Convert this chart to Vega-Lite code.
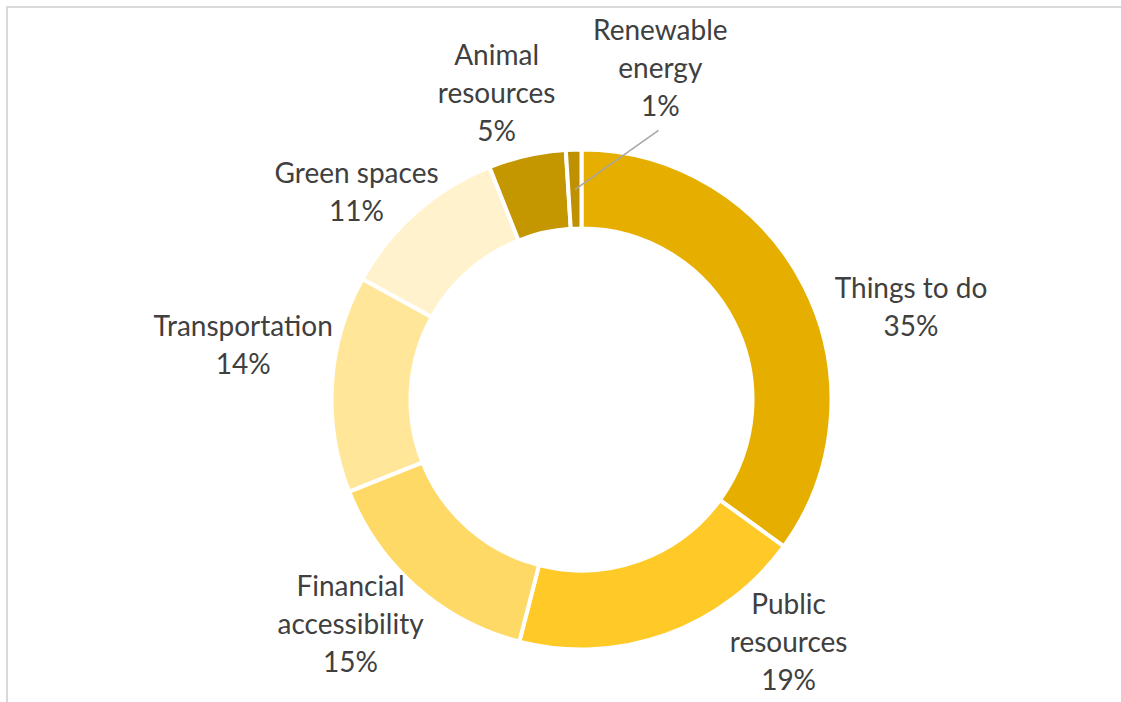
{
  "$schema": "https://vega.github.io/schema/vega-lite/v6.json",
  "width": 1149,
  "height": 785,
  "autosize": {"type": "none"},
  "padding": {"left": 7, "top": 7, "right": -35, "bottom": -90},
  "background": "white",
  "view": {"stroke": "#D9D9D9", "strokeWidth": 2, "fill": "white"},
  "data": {
    "values": [
      {"category": "Things to do", "label": "Things to do", "pct": 35, "order": 1},
      {"category": "Public resources", "label": "Public\nresources", "pct": 19, "order": 2},
      {"category": "Financial accessibility", "label": "Financial\naccessibility", "pct": 15, "order": 3},
      {"category": "Transportation", "label": "Transportation", "pct": 14, "order": 4},
      {"category": "Green spaces", "label": "Green spaces", "pct": 11, "order": 5},
      {"category": "Animal resources", "label": "Animal\nresources", "pct": 5, "order": 6},
      {"category": "Renewable energy", "label": "Renewable\nenergy", "pct": 1, "order": 7}
    ]
  },
  "transform": [
    {"calculate": "datum.label + '\\n' + datum.pct + '%'", "as": "txt"}
  ],
  "layer": [
    {
      "mark": {"type": "arc", "outerRadius": 250, "innerRadius": 171, "stroke": "white", "strokeWidth": 4},
      "encoding": {
        "theta": {"field": "pct", "type": "quantitative", "stack": true},
        "order": {"field": "order", "type": "quantitative"},
        "color": {
          "field": "category",
          "type": "nominal",
          "legend": null,
          "scale": {
            "domain": ["Things to do", "Public resources", "Financial accessibility", "Transportation", "Green spaces", "Animal resources", "Renewable energy"],
            "range": ["#E6AF00", "#FFCA28", "#FFD966", "#FFE699", "#FFF2CC", "#C49600", "#BF9000"]
          }
        }
      }
    },
    {
      "transform": [
        {"window": [{"op": "sum", "field": "pct", "as": "cum"}], "sort": [{"field": "order"}]},
        {"filter": "datum.category === 'Renewable energy'"},
        {"calculate": "2*PI*(datum.cum - datum.pct/2)/100", "as": "a"},
        {"calculate": "210*sin(datum.a)", "as": "x1"},
        {"calculate": "210*cos(datum.a)", "as": "y1"},
        {"calculate": "280*sin(datum.a + 0.31)", "as": "x2"},
        {"calculate": "280*cos(datum.a + 0.31)", "as": "y2"}
      ],
      "mark": {"type": "rule", "color": "#A6A6A6", "strokeWidth": 1.5},
      "encoding": {
        "x": {"field": "x1", "type": "quantitative", "axis": null, "scale": {"domain": [-574.5, 574.5], "nice": false, "zero": false}},
        "y": {"field": "y1", "type": "quantitative", "axis": null, "scale": {"domain": [-392.5, 392.5], "nice": false, "zero": false}},
        "x2": {"field": "x2"},
        "y2": {"field": "y2"}
      }
    },
    {
      "mark": {"type": "text", "font": "Lato", "fontSize": 28, "fill": "#404040", "lineBreak": "\n", "lineHeight": 38, "radius": 325, "align": "center", "baseline": "middle", "dx": 40, "dy": 38},
      "encoding": {
        "theta": {"field": "pct", "type": "quantitative", "stack": true},
        "order": {"field": "order", "type": "quantitative"},
        "text": {"condition": {"test": "datum.category === 'Things to do'", "field": "txt"}, "value": ""}
      }
    },
    {
      "mark": {"type": "text", "font": "Lato", "fontSize": 28, "fill": "#404040", "lineBreak": "\n", "lineHeight": 38, "radius": 325, "align": "center", "baseline": "middle", "dx": 97, "dy": -99},
      "encoding": {
        "theta": {"field": "pct", "type": "quantitative", "stack": true},
        "order": {"field": "order", "type": "quantitative"},
        "text": {"condition": {"test": "datum.category === 'Public resources'", "field": "txt"}, "value": ""}
      }
    },
    {
      "mark": {"type": "text", "font": "Lato", "fontSize": 28, "fill": "#404040", "lineBreak": "\n", "lineHeight": 38, "radius": 325, "align": "center", "baseline": "middle", "dx": -16, "dy": -55},
      "encoding": {
        "theta": {"field": "pct", "type": "quantitative", "stack": true},
        "order": {"field": "order", "type": "quantitative"},
        "text": {"condition": {"test": "datum.category === 'Financial accessibility'", "field": "txt"}, "value": ""}
      }
    },
    {
      "mark": {"type": "text", "font": "Lato", "fontSize": 28, "fill": "#404040", "lineBreak": "\n", "lineHeight": 38, "radius": 325, "align": "center", "baseline": "middle", "dx": -14, "dy": -51},
      "encoding": {
        "theta": {"field": "pct", "type": "quantitative", "stack": true},
        "order": {"field": "order", "type": "quantitative"},
        "text": {"condition": {"test": "datum.category === 'Transportation'", "field": "txt"}, "value": ""}
      }
    },
    {
      "mark": {"type": "text", "font": "Lato", "fontSize": 28, "fill": "#404040", "lineBreak": "\n", "lineHeight": 38, "radius": 325, "align": "center", "baseline": "middle", "dx": -10, "dy": 19},
      "encoding": {
        "theta": {"field": "pct", "type": "quantitative", "stack": true},
        "order": {"field": "order", "type": "quantitative"},
        "text": {"condition": {"test": "datum.category === 'Green spaces'", "field": "txt"}, "value": ""}
      }
    },
    {
      "mark": {"type": "text", "font": "Lato", "fontSize": 28, "fill": "#404040", "lineBreak": "\n", "lineHeight": 38, "radius": 325, "align": "center", "baseline": "middle", "dx": -14, "dy": -25},
      "encoding": {
        "theta": {"field": "pct", "type": "quantitative", "stack": true},
        "order": {"field": "order", "type": "quantitative"},
        "text": {"condition": {"test": "datum.category === 'Animal resources'", "field": "txt"}, "value": ""}
      }
    },
    {
      "mark": {"type": "text", "font": "Lato", "fontSize": 28, "fill": "#404040", "lineBreak": "\n", "lineHeight": 38, "radius": 325, "align": "center", "baseline": "middle", "dx": 89, "dy": -43},
      "encoding": {
        "theta": {"field": "pct", "type": "quantitative", "stack": true},
        "order": {"field": "order", "type": "quantitative"},
        "text": {"condition": {"test": "datum.category === 'Renewable energy'", "field": "txt"}, "value": ""}
      }
    }
  ]
}
